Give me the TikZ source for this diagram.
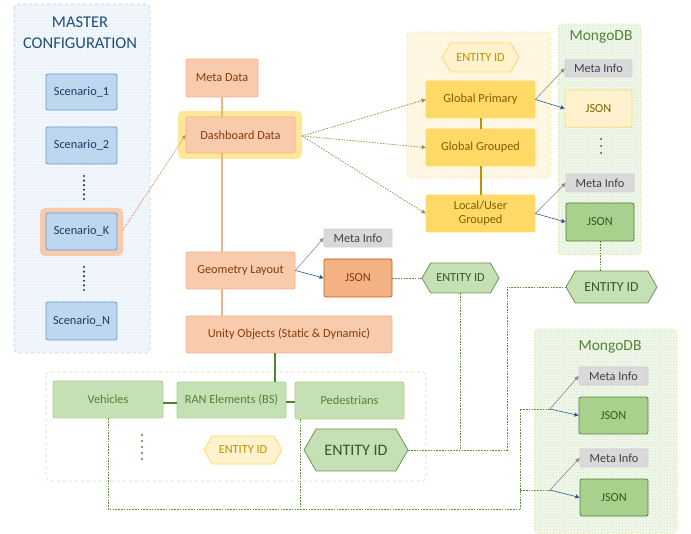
\documentclass[tikz,border=0pt]{standalone}
\usepackage{fontspec}
\setmainfont{Carlito}
\usetikzlibrary{shapes.symbols,patterns,arrows.meta,calc}
\definecolor{cBlueF}{HTML}{BDD7EE}
\definecolor{cBlueD}{HTML}{6A9BD0}
\definecolor{cBlueT}{HTML}{1F3864}
\definecolor{cBlueTitle}{HTML}{1F4E79}
\definecolor{cBlueBg}{HTML}{F3F8FD}
\definecolor{cBlueDot}{HTML}{B8D0EC}
\definecolor{cOrF}{HTML}{F8CBAD}
\definecolor{cOrD}{HTML}{F4B183}
\definecolor{cOrT}{HTML}{843C0C}
\definecolor{cOrDark}{HTML}{C55A11}
\definecolor{cOrArrow}{HTML}{E08A50}
\definecolor{cYeF}{HTML}{FFD966}
\definecolor{cYeD}{HTML}{FFD966}
\definecolor{cYeT}{HTML}{7F6000}
\definecolor{cYeHalo}{HTML}{FFE699}
\definecolor{cYeLight}{HTML}{FFF2CC}
\definecolor{cYeBg}{HTML}{FFF8E6}
\definecolor{cYeDot}{HTML}{FFE3A0}
\definecolor{cGold}{HTML}{BF9000}
\definecolor{cOlive}{HTML}{A38A4A}
\definecolor{cGrF}{HTML}{C5E0B4}
\definecolor{cGrD}{HTML}{A9D18E}
\definecolor{cGrT}{HTML}{548235}
\definecolor{cGrLine}{HTML}{5E913C}
\definecolor{cGrDark}{HTML}{385723}
\definecolor{cGrBg}{HTML}{F2F8EE}
\definecolor{cGrDot}{HTML}{C9E3B8}
\definecolor{cGreyF}{HTML}{D9D9D9}
\definecolor{cGreyD}{HTML}{CFCFCF}
\definecolor{cGreyT}{HTML}{404040}
\definecolor{cArrGrey}{HTML}{8C8C8C}
\definecolor{cArrBlue}{HTML}{2F5597}
\tikzset{
  box/.style={rectangle, rounded corners=2pt, inner sep=0pt, align=center,
    font=\fontsize{12.3}{14}\selectfont, line width=0.8pt},
  bluebox/.style={box, fill=cBlueF, draw=cBlueD, text=cBlueT},
  orbox/.style={box, fill=cOrF, draw=cOrD, text=cOrT},
  orjson/.style={box, fill=cOrD, draw=cOrDark, text=cOrT},
  yebox/.style={box, fill=cYeF, draw=cYeD, text=cYeT},
  yejson/.style={box, fill=cYeLight, draw=cYeF, text=cYeT},
  grbox/.style={box, fill=cGrF, draw=cGrD, text=cGrT},
  grjson/.style={box, fill=cGrD, draw=cGrT, text=cGrDark},
  metabox/.style={box, rounded corners=1pt, fill=cGreyF, draw=cGreyD, text=cGreyT},
  hexbase/.style={signal, signal to=west and east, signal pointer angle=120,
    inner sep=0pt, line width=0.8pt, align=center},
  hexgreen/.style={hexbase, fill=cGrF, draw=cGrT!85, text=cGrDark},
  hexyellow/.style={hexbase, fill=cYeLight, draw=cYeF, text=cGold},
  container/.style={rounded corners=4pt, dashed, line width=0.6pt},
  dotline/.style={line width=0.8pt, dash pattern=on 1.6pt off 1.2pt},
  greendot/.style={dotline, draw=cGrLine},
  arrgrey/.style={draw=cArrGrey, line width=0.6pt, -{Triangle[length=4pt,width=4pt]}},
  arrblue/.style={draw=cArrBlue, line width=0.6pt, -{Triangle[length=4pt,width=4pt]}},
  vdots/.style={line width=2.4pt, line cap=round, dash pattern=on 0pt off 4.6pt},
  title/.style={align=center, inner sep=0pt}
}
\begin{document}
\begin{tikzpicture}[x=1pt,y=-1pt]
\useasboundingbox (0,0) rectangle (691,534);

% ---------- containers ----------
\fill[cBlueBg, rounded corners=4pt] (14,4) rectangle (150,353);
\fill[pattern=dots, pattern color=cBlueDot, rounded corners=4pt] (14,4) rectangle (150,353);
\draw[container, draw=cBlueDot] (14,4) rectangle (150,353);
\node[title, font=\fontsize{16.5}{21}\selectfont, text=cBlueTitle] (mtitle) at (80,33) {MASTER\\CONFIGURATION};

\fill[cYeBg, rounded corners=4pt] (407,32) rectangle (551,178);
\fill[pattern=dots, pattern color=cYeDot, rounded corners=4pt] (407,32) rectangle (551,178);
\draw[container, draw=cYeHalo] (407,32) rectangle (551,178);

\fill[cGrBg, rounded corners=4pt] (558,24) rectangle (641,255);
\fill[pattern=crosshatch dots, pattern color=cGrDot, rounded corners=4pt] (558,24) rectangle (641,255);
\draw[container, draw=cYeHalo] (558,24) rectangle (641,255);
\node[title, font=\fontsize{15.5}{18}\selectfont, text=cGrT] (mongo1) at (601,37) {MongoDB};

\fill[cGrBg, rounded corners=4pt] (534,329) rectangle (677,533);
\fill[pattern=crosshatch dots, pattern color=cGrDot, rounded corners=4pt] (534,329) rectangle (677,533);
\draw[container, draw=cYeHalo] (534,329) rectangle (677,533);
\node[title, font=\fontsize{15.5}{18}\selectfont, text=cGrT] (mongo2) at (610,347) {MongoDB};

\draw[container, draw=cGrF] (46,372) rectangle (426,481);

% ---------- halos ----------
\fill[cOrF, rounded corners=5pt] (40,208) rectangle (123,256);
\fill[cYeHalo, rounded corners=5pt] (178,111) rectangle (302,159);

% ---------- scenarios ----------
\node[bluebox, minimum width=71pt, minimum height=36pt] (s1) at (81.5,92) {Scenario\_1};
\node[bluebox, minimum width=71pt, minimum height=37pt] (s2) at (81.5,145.5) {Scenario\_2};
\node[bluebox, minimum width=71pt, minimum height=37pt] (sK) at (81.5,231.5) {Scenario\_K};
\node[bluebox, minimum width=71pt, minimum height=38pt] (sN) at (81.5,321) {Scenario\_N};
\draw[vdots, cBlueT] (84,176) -- (84,202);
\draw[vdots, cBlueT] (84,267) -- (84,293);

% ---------- middle column ----------
\node[orbox, minimum width=72pt, minimum height=38pt] (meta) at (222,78) {Meta Data};
\node[orbox, minimum width=109pt, minimum height=36pt] (dash) at (240.5,135) {Dashboard Data};
\node[orbox, minimum width=109pt, minimum height=37pt] (geo) at (240.5,270.5) {Geometry Layout};
\node[orbox, minimum width=206pt, minimum height=37pt] (unity) at (289,334.5) {Unity Objects (Static \& Dynamic)};
\node[metabox, minimum width=68pt, minimum height=18pt] (mi1) at (358,238) {Meta Info};
\node[orjson, minimum width=68pt, minimum height=38pt] (j1) at (358,278) {JSON};

% ---------- yellow group ----------
\node[hexyellow, minimum width=77pt, minimum height=29pt, font=\fontsize{12.3}{14}\selectfont] (eidy1) at (480.5,57.5) {ENTITY ID};
\node[yebox, minimum width=109pt, minimum height=37pt] (gp) at (480.5,99.5) {Global Primary};
\node[yebox, minimum width=109pt, minimum height=37pt] (gg) at (480.5,147.5) {Global Grouped};
\node[yebox, minimum width=109pt, minimum height=37pt] (lu) at (480.5,213.5) {Local/User\\Grouped};

% ---------- mongo top ----------
\node[metabox, minimum width=67pt, minimum height=17pt] (mi2) at (598.5,68.5) {Meta Info};
\node[yejson, minimum width=67pt, minimum height=37pt] (j2) at (598.5,108.5) {JSON};
\draw[vdots, black!75, line width=2pt, dash pattern=on 0pt off 7pt] (601,139) -- (601,154);
\node[metabox, minimum width=68pt, minimum height=18pt] (mi3) at (600,183) {Meta Info};
\node[grjson, minimum width=68pt, minimum height=38pt] (j3) at (600,222) {JSON};

% ---------- entity hexes ----------
\node[hexgreen, minimum width=77pt, minimum height=30pt, font=\fontsize{12.3}{14}\selectfont] (eid1) at (460.5,278) {ENTITY ID};
\node[hexgreen, minimum width=91pt, minimum height=32pt, font=\fontsize{13.8}{16}\selectfont] (eid2) at (611.5,287) {ENTITY ID};
\node[hexgreen, minimum width=104pt, minimum height=42pt, font=\fontsize{16}{18}\selectfont] (eidb) at (356,450) {ENTITY ID};
\node[hexyellow, minimum width=78pt, minimum height=28pt, font=\fontsize{12.3}{14}\selectfont] (eidy2) at (243,450) {ENTITY ID};

% ---------- mongo bottom ----------
\node[metabox, minimum width=69pt, minimum height=18pt] (mi4) at (613.5,376) {Meta Info};
\node[grjson, minimum width=69pt, minimum height=37pt] (j4) at (613.5,415.5) {JSON};
\node[metabox, minimum width=68pt, minimum height=18pt] (mi5) at (614,458) {Meta Info};
\node[grjson, minimum width=68pt, minimum height=37pt] (j5) at (614,497.5) {JSON};

% ---------- unity group ----------
\node[grbox, minimum width=110pt, minimum height=37pt] (veh) at (108,399.5) {Vehicles};
\node[grbox, minimum width=109pt, minimum height=36pt] (ran) at (231.5,400) {RAN Elements (BS)};
\node[grbox, minimum width=109pt, minimum height=37pt] (ped) at (349.5,400.5) {Pedestrians};
\draw[vdots, cGrT, line width=2.2pt, dash pattern=on 0pt off 6pt] (142,435) -- (142,461);

% ---------- connectors ----------
% orange spine
\draw[cOrD, line width=2.2pt] (meta.south) -- (dash.north -| meta.south);
\draw[cOrD, line width=2.2pt] (dash.south -| meta.south) -- (geo.north -| meta.south);
\draw[cOrD, line width=2.2pt] (geo.south -| meta.south) -- (unity.north -| meta.south);
% gold spine
\draw[cGold, line width=2pt] (gp.south) -- (gg.north);
\draw[cGold, line width=2pt] (gg.south) -- (lu.north);
% green solids
\coordinate (uran) at (275,353);
\draw[cGrT, line width=2pt] (unity.south -| uran) -- (ran.north -| uran);
\draw[cGrT, line width=2pt] (veh.east |- 0,403) -- (ran.west |- 0,403);
\draw[cGrT, line width=2pt] (ran.east |- 0,402) -- (ped.west |- 0,402);

% scenario K -> dashboard
\coordinate (sKout) at (123,230);
\draw[cOrArrow, dotline, line width=0.7pt, -{Triangle[length=4pt,width=4pt]}] (sKout) -- (dash.west);
% dashboard -> yellow boxes
\coordinate (dout) at (302,136);
\draw[cOlive, dotline, line width=0.7pt, -{Triangle[length=4pt,width=4pt]}] (dout) -- (gp.west);
\draw[cOlive, dotline, line width=0.7pt, -{Triangle[length=4pt,width=4pt]}] (dout) -- (gg.west);
\draw[cOlive, dotline, line width=0.7pt, -{Triangle[length=4pt,width=4pt]}] (dout) -- (lu.west);

% geometry -> meta/json
\draw[arrgrey] (geo.east) -- (mi1.west);
\draw[arrblue] (geo.east) -- (j1.west);
% global primary / local -> mongo
\draw[arrgrey] (gp.east) -- (mi2.west);
\draw[arrblue] (gp.east) -- (j2.west);
\draw[arrgrey] (lu.east) -- (mi3.west);
\draw[arrblue] (lu.east) -- (j3.west);

% green dotted network
\draw[greendot] (j1.east) -- (eid1.west);
\draw[greendot] (j3.south) -- (j3.south |- eid2.north);
\coordinate (turn) at (507,287);
\draw[greendot] (eidb.east) -- (turn |- eidb.east) -- (turn) -- (eid2.west);
\draw[greendot] (eid1.south) -- (eid1.south |- eidb.east);

\coordinate (b1) at (550,409);
\coordinate (b2) at (550,490);
\coordinate (vx) at (520,509);
\draw[greendot] (b1) -- (vx |- b1) -- (vx);
\draw[greendot] (b2) -- (vx |- b2);
\draw[greendot] (veh.south) -- (veh.south |- vx) -- (vx);
\coordinate (px) at (300,419);
\draw[greendot] (px) -- (px |- vx);
\draw[arrgrey] (b1) -- (mi4.west);
\draw[arrblue] (b1) -- (j4.west);
\draw[arrgrey] (b2) -- (mi5.west);
\draw[arrblue] (b2) -- (j5.west);
\end{tikzpicture}
\end{document}
